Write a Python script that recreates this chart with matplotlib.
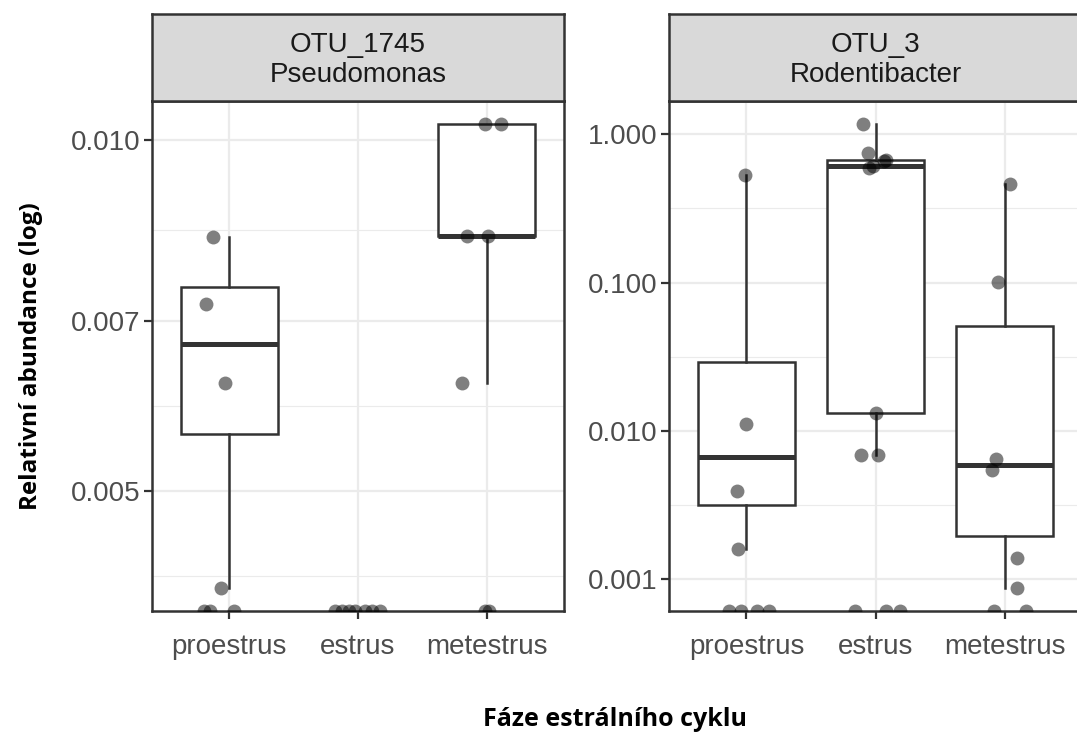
import numpy as np
import matplotlib.pyplot as plt

W, H = 1077, 736

phases = ['proestrus', 'estrus', 'metestrus']
strip_titles = ['OTU_1745\nPseudomonas', 'OTU_3\nRodentibacter']

# relative abundance per sample (0 = not detected, drawn on the bottom edge)
pseudo_pro = [0.00826, 0.00723, 0.00619, 0.00413, 0, 0, 0]
pseudo_est = [0, 0, 0, 0, 0, 0, 0]
pseudo_met = [0.01032, 0.01032, 0.00827, 0.00827, 0.00619, 0, 0]
rodent_pro = [0.535, 0.0111, 0.00395, 0.0016, 0, 0, 0, 0]
rodent_est = [1.17, 0.752, 0.672, 0.66, 0.615, 0.59, 0.01315, 0.00687, 0.00687, 0, 0, 0]
rodent_met = [0.461, 0.1005, 0.00646, 0.00544, 0.00139, 0.000875, 0, 0]

# horizontal jitter of each point (category units)
pseudo_pro_jit = [-0.124, -0.178, -0.031, -0.062, -0.20, -0.147, 0.039]
pseudo_est_jit = [-0.178, -0.124, -0.070, -0.02, 0.054, 0.109, 0.171]
pseudo_met_jit = [-0.016, 0.114, -0.157, 0.010, -0.194, -0.016, 0.016]
rodent_pro_jit = [-0.015, -0.005, -0.072, -0.062, -0.132, -0.039, 0.078, 0.171]
rodent_est_jit = [-0.098, -0.057, 0.085, 0.064, -0.023, -0.047, 0.005, -0.109, 0.018, -0.155, 0.078, 0.186]
rodent_met_jit = [0.041, -0.049, -0.07, -0.10, 0.10, 0.10, -0.085, 0.163]

pseudo_breaks = [0.005, 0.007, 0.010]
rodent_breaks = [0.001, 0.010, 0.100, 1.000]

dark = '#333333'
grid_col = '#EBEBEB'
tick_font = 'Liberation Sans'
title_font = ['Open Sans', 'DejaVu Sans']


def px_axes(fig, x0, y0, x1, y1):
    return fig.add_axes([x0 / W, 1 - y1 / H, (x1 - x0) / W, (y1 - y0) / H])


def draw_panel(ax, groups, jits, breaks):
    pos = np.arange(1, len(groups) + 1)
    logs = [np.log10([v for v in g if v > 0]) for g in groups]
    allv = np.concatenate([l for l in logs if len(l)])
    lo, hi = allv.min(), allv.max()
    pad = 0.05 * (hi - lo)
    ymin, ymax = lo - pad, hi + pad
    ax.set_xlim(0.4, 3.6)
    ax.set_ylim(ymin, ymax)

    # grid: major at breaks, minor halfway (ggplot style)
    b = np.log10(breaks)
    b = b[(b >= ymin) & (b <= ymax)]
    bd = b[1] - b[0]
    ext = list(b)
    if ymin < b[0]:
        ext = [b[0] - bd] + ext
    if ymax > b[-1]:
        ext = ext + [b[-1] + bd]
    minor = [(ext[i] + ext[i + 1]) / 2 for i in range(len(ext) - 1)]
    for m in minor:
        ax.axhline(m, color=grid_col, lw=0.8, zorder=0)
    for v in b:
        ax.axhline(v, color=grid_col, lw=1.6, zorder=0)
    for p in pos:
        ax.axvline(p, color=grid_col, lw=1.6, zorder=0)

    keep = [i for i in range(len(groups)) if len(logs[i])]
    ax.boxplot([logs[i] for i in keep], positions=[pos[i] for i in keep],
               widths=0.75, whis=1.5, showfliers=False, showcaps=False,
               patch_artist=True, manage_ticks=False, zorder=2,
               boxprops=dict(facecolor='white', edgecolor=dark, linewidth=1.8),
               whiskerprops=dict(color=dark, linewidth=1.8),
               medianprops=dict(color=dark, linewidth=3.6, solid_capstyle='butt'))

    for i, g in enumerate(groups):
        vals = np.array(g, dtype=float)
        y = np.where(vals > 0, np.log10(np.where(vals > 0, vals, 1)), ymin)
        x = pos[i] + np.array(jits[i])
        ax.plot(x, y, 'o', color='black', alpha=0.5, markersize=10,
                markeredgewidth=0, zorder=3)

    ax.set_xticks(pos)
    ax.set_xticklabels(phases)
    ax.set_yticks(b)
    ax.set_yticklabels(['%.3f' % (10 ** v) for v in b])
    ax.tick_params(length=5.5, width=1.6, color=dark, labelcolor='#4D4D4D',
                   labelsize=20, pad=3)
    ax.tick_params(axis='x', pad=11)
    for lab in ax.get_xticklabels() + ax.get_yticklabels():
        lab.set_fontfamily(tick_font)
    for s in ax.spines.values():
        s.set_color(dark)
        s.set_linewidth(1.8)


def draw_strip(ax, text):
    ax.set_facecolor('#D9D9D9')
    ax.set_xticks([])
    ax.set_yticks([])
    for s in ax.spines.values():
        s.set_color(dark)
        s.set_linewidth(1.8)
    ax.text(0.5, 0.47, text, ha='center', va='center', fontsize=20,
            color='#1A1A1A', family=tick_font, linespacing=1.2,
            transform=ax.transAxes)


fig = plt.figure(figsize=(W / 100, H / 100), dpi=100)

ax1 = px_axes(fig, 152, 101, 564, 611)
draw_panel(ax1, [pseudo_pro, pseudo_est, pseudo_met],
           [pseudo_pro_jit, pseudo_est_jit, pseudo_met_jit], pseudo_breaks)
s1 = px_axes(fig, 152, 14, 564, 101)
draw_strip(s1, strip_titles[0])

ax2 = px_axes(fig, 669, 101, 1082, 611)
draw_panel(ax2, [rodent_pro, rodent_est, rodent_met],
           [rodent_pro_jit, rodent_est_jit, rodent_met_jit], rodent_breaks)
s2 = px_axes(fig, 669, 14, 1082, 101)
draw_strip(s2, strip_titles[1])

fig.text(615 / W, 1 - 720 / H, 'Fáze estrálního cyklu', ha='center', va='center',
         fontsize=18, fontweight='bold', family=title_font)
fig.text(31 / W, 1 - 356 / H, 'Relativní abundance (log)', ha='center', va='center',
         rotation=90, fontsize=17.5, fontweight='bold', family=title_font)

fig.savefig('out.png', dpi=100)
